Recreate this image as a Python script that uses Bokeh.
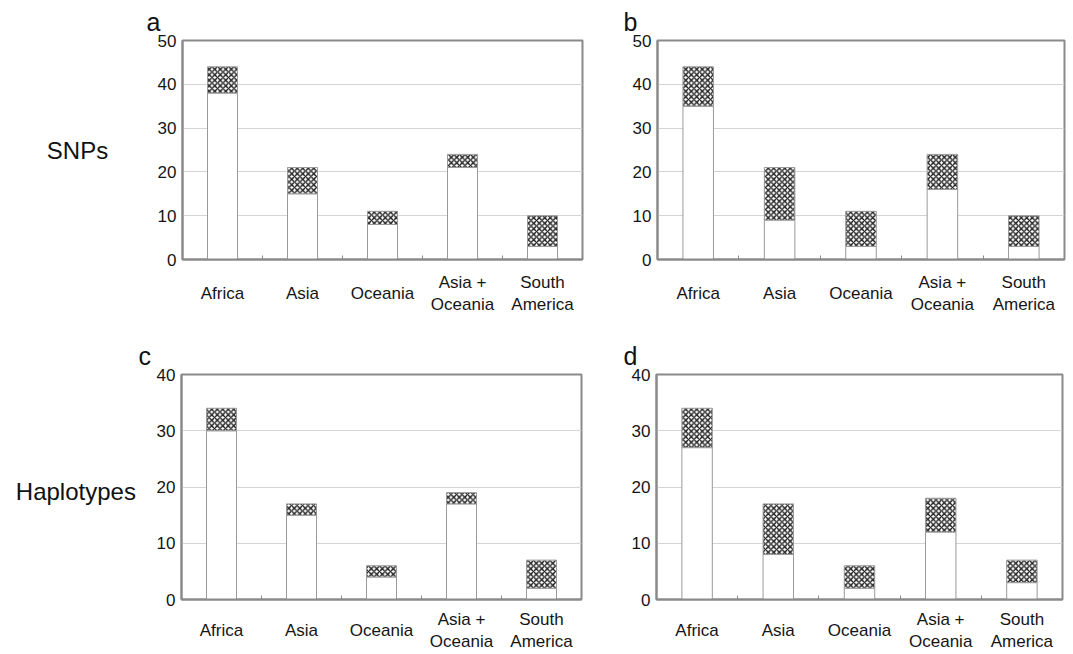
from bokeh.plotting import figure
from bokeh.models import ColumnDataSource, Range1d, FixedTicker, Title
from bokeh.core.properties import value
from bokeh.layouts import column, row
from bokeh.embed import file_html
from bokeh.resources import INLINE

# ---------------- data ----------------
regions = ["Africa", "Asia", "Oceania", "Asia +\nOceania", "South\nAmerica"]

snp_a_lower = [38, 15, 8, 21, 3]
snp_a_total = [44, 21, 11, 24, 10]

snp_b_lower = [35, 9, 3, 16, 3]
snp_b_total = [44, 21, 11, 24, 10]

hap_c_lower = [30, 15, 4, 17, 2]
hap_c_total = [34, 17, 6, 19, 7]

hap_d_lower = [27, 8, 2, 12, 3]
hap_d_total = [34, 17, 6, 18, 7]

snp_ticks = [0, 10, 20, 30, 40, 50]
hap_ticks = [0, 10, 20, 30, 40]

FONT = "Liberation Sans"
FRAME = "#8a8a8a"
BAR_LINE = "#9a9a9a"
TXT = "#151515"


def centred_label(lab):
    # lay labels out on half-line steps so one-line names sit midway
    # between the two lines of the two-line names
    parts = lab.split("\n")
    if len(parts) == 1:
        return "\n" + lab
    return "\n\n".join(parts)


def make_panel(letter, lower, total, yticks, width, height, bl, br, bt, bb,
               letter_offset, xstandoff):
    n = len(regions)
    xs = [i + 0.5 for i in range(n)]
    src = ColumnDataSource(dict(x=xs, lower=lower, total=total))
    p = figure(width=width, height=height, output_backend="svg",
               toolbar_location=None, tools="",
               x_range=Range1d(0, n), y_range=Range1d(0, yticks[-1]),
               min_border_left=bl, min_border_right=br,
               min_border_top=bt, min_border_bottom=bb)
    p.background_fill_color = "white"
    p.border_fill_color = "white"
    p.outline_line_color = FRAME
    p.outline_line_width = 2

    # bars: open lower part, cross-hatched upper part
    p.vbar(x="x", width=0.375, bottom=0, top="lower", source=src,
           fill_color="white", line_color=BAR_LINE, line_width=1)
    p.vbar(x="x", width=0.375, bottom="lower", top="total", source=src,
           fill_color="white", line_color=BAR_LINE, line_width=1,
           hatch_pattern="diagonal_cross", hatch_color="#1e1e1e",
           hatch_scale=5.5, hatch_weight=1.4)

    # x axis: category names at bar centres, small ticks between categories
    xa = p.xaxis[0]
    xa.ticker = FixedTicker(ticks=xs, minor_ticks=[i for i in range(1, n)])
    xa.major_label_overrides = {x: centred_label(lab)
                                for x, lab in zip(xs, regions)}
    xa.axis_line_color = FRAME
    xa.axis_line_width = 2
    xa.major_tick_in = 0
    xa.major_tick_out = 0
    xa.minor_tick_in = 4
    xa.minor_tick_out = 0
    xa.minor_tick_line_color = FRAME
    xa.minor_tick_line_width = 1
    xa.major_label_standoff = xstandoff
    xa.major_label_text_font = FONT
    xa.major_label_text_font_size = "17px"
    xa.major_label_text_color = TXT
    xa.major_label_text_line_height = 0.6
    p.xgrid.visible = False

    ya = p.yaxis[0]
    ya.ticker = FixedTicker(ticks=yticks, minor_ticks=[])
    ya.axis_line_color = FRAME
    ya.axis_line_width = 2
    ya.major_tick_in = 0
    ya.major_tick_out = 0
    ya.minor_tick_line_color = None
    ya.major_label_standoff = 6
    ya.major_label_text_font = FONT
    ya.major_label_text_font_size = "17px"
    ya.major_label_text_color = TXT
    p.ygrid.ticker = FixedTicker(ticks=yticks)
    p.ygrid.grid_line_color = "#d4d4d4"
    p.ygrid.grid_line_width = 1

    p.add_layout(Title(text=letter, align="left", offset=letter_offset,
                       text_font=FONT, text_font_size="25px",
                       text_font_style="normal", text_color="#111111",
                       standoff=10), "above")
    return p


def make_row_label(text, width, height, y_from_top):
    p = figure(width=width, height=height, output_backend="svg",
               toolbar_location=None, tools="",
               x_range=Range1d(0, width), y_range=Range1d(0, height),
               min_border=0)
    p.axis.visible = False
    p.grid.visible = False
    p.outline_line_color = None
    p.background_fill_color = "white"
    p.border_fill_color = "white"
    src = ColumnDataSource(dict(x=[width * 0.55], y=[height - y_from_top],
                                t=[text]))
    p.text(x="x", y="y", text="t", source=src, text_align="center",
           text_baseline="middle", text_font=value(FONT),
           text_font_size="24px", text_color="#111111")
    return p


la = make_row_label("SNPs", 140, 318, 160)
pa = make_panel("a", snp_a_lower, snp_a_total, snp_ticks, 460, 318,
                42, 18, 40, 59, -36, 13)
pb = make_panel("b", snp_b_lower, snp_b_total, snp_ticks, 470, 318,
                57, 6, 39, 58, -34, 13)

lc = make_row_label("Haplotypes", 137, 336, 174)
pc = make_panel("c", hap_c_lower, hap_c_total, hap_ticks, 463, 336,
                44, 19, 56, 55, -43, 10)
pd = make_panel("d", hap_d_lower, hap_d_total, hap_ticks, 470, 336,
                56, 8, 54, 55, -33, 10)

layout = column(row(la, pa, pb), row(lc, pc, pd))
open("out.html", "w").write(file_html(layout, INLINE))
